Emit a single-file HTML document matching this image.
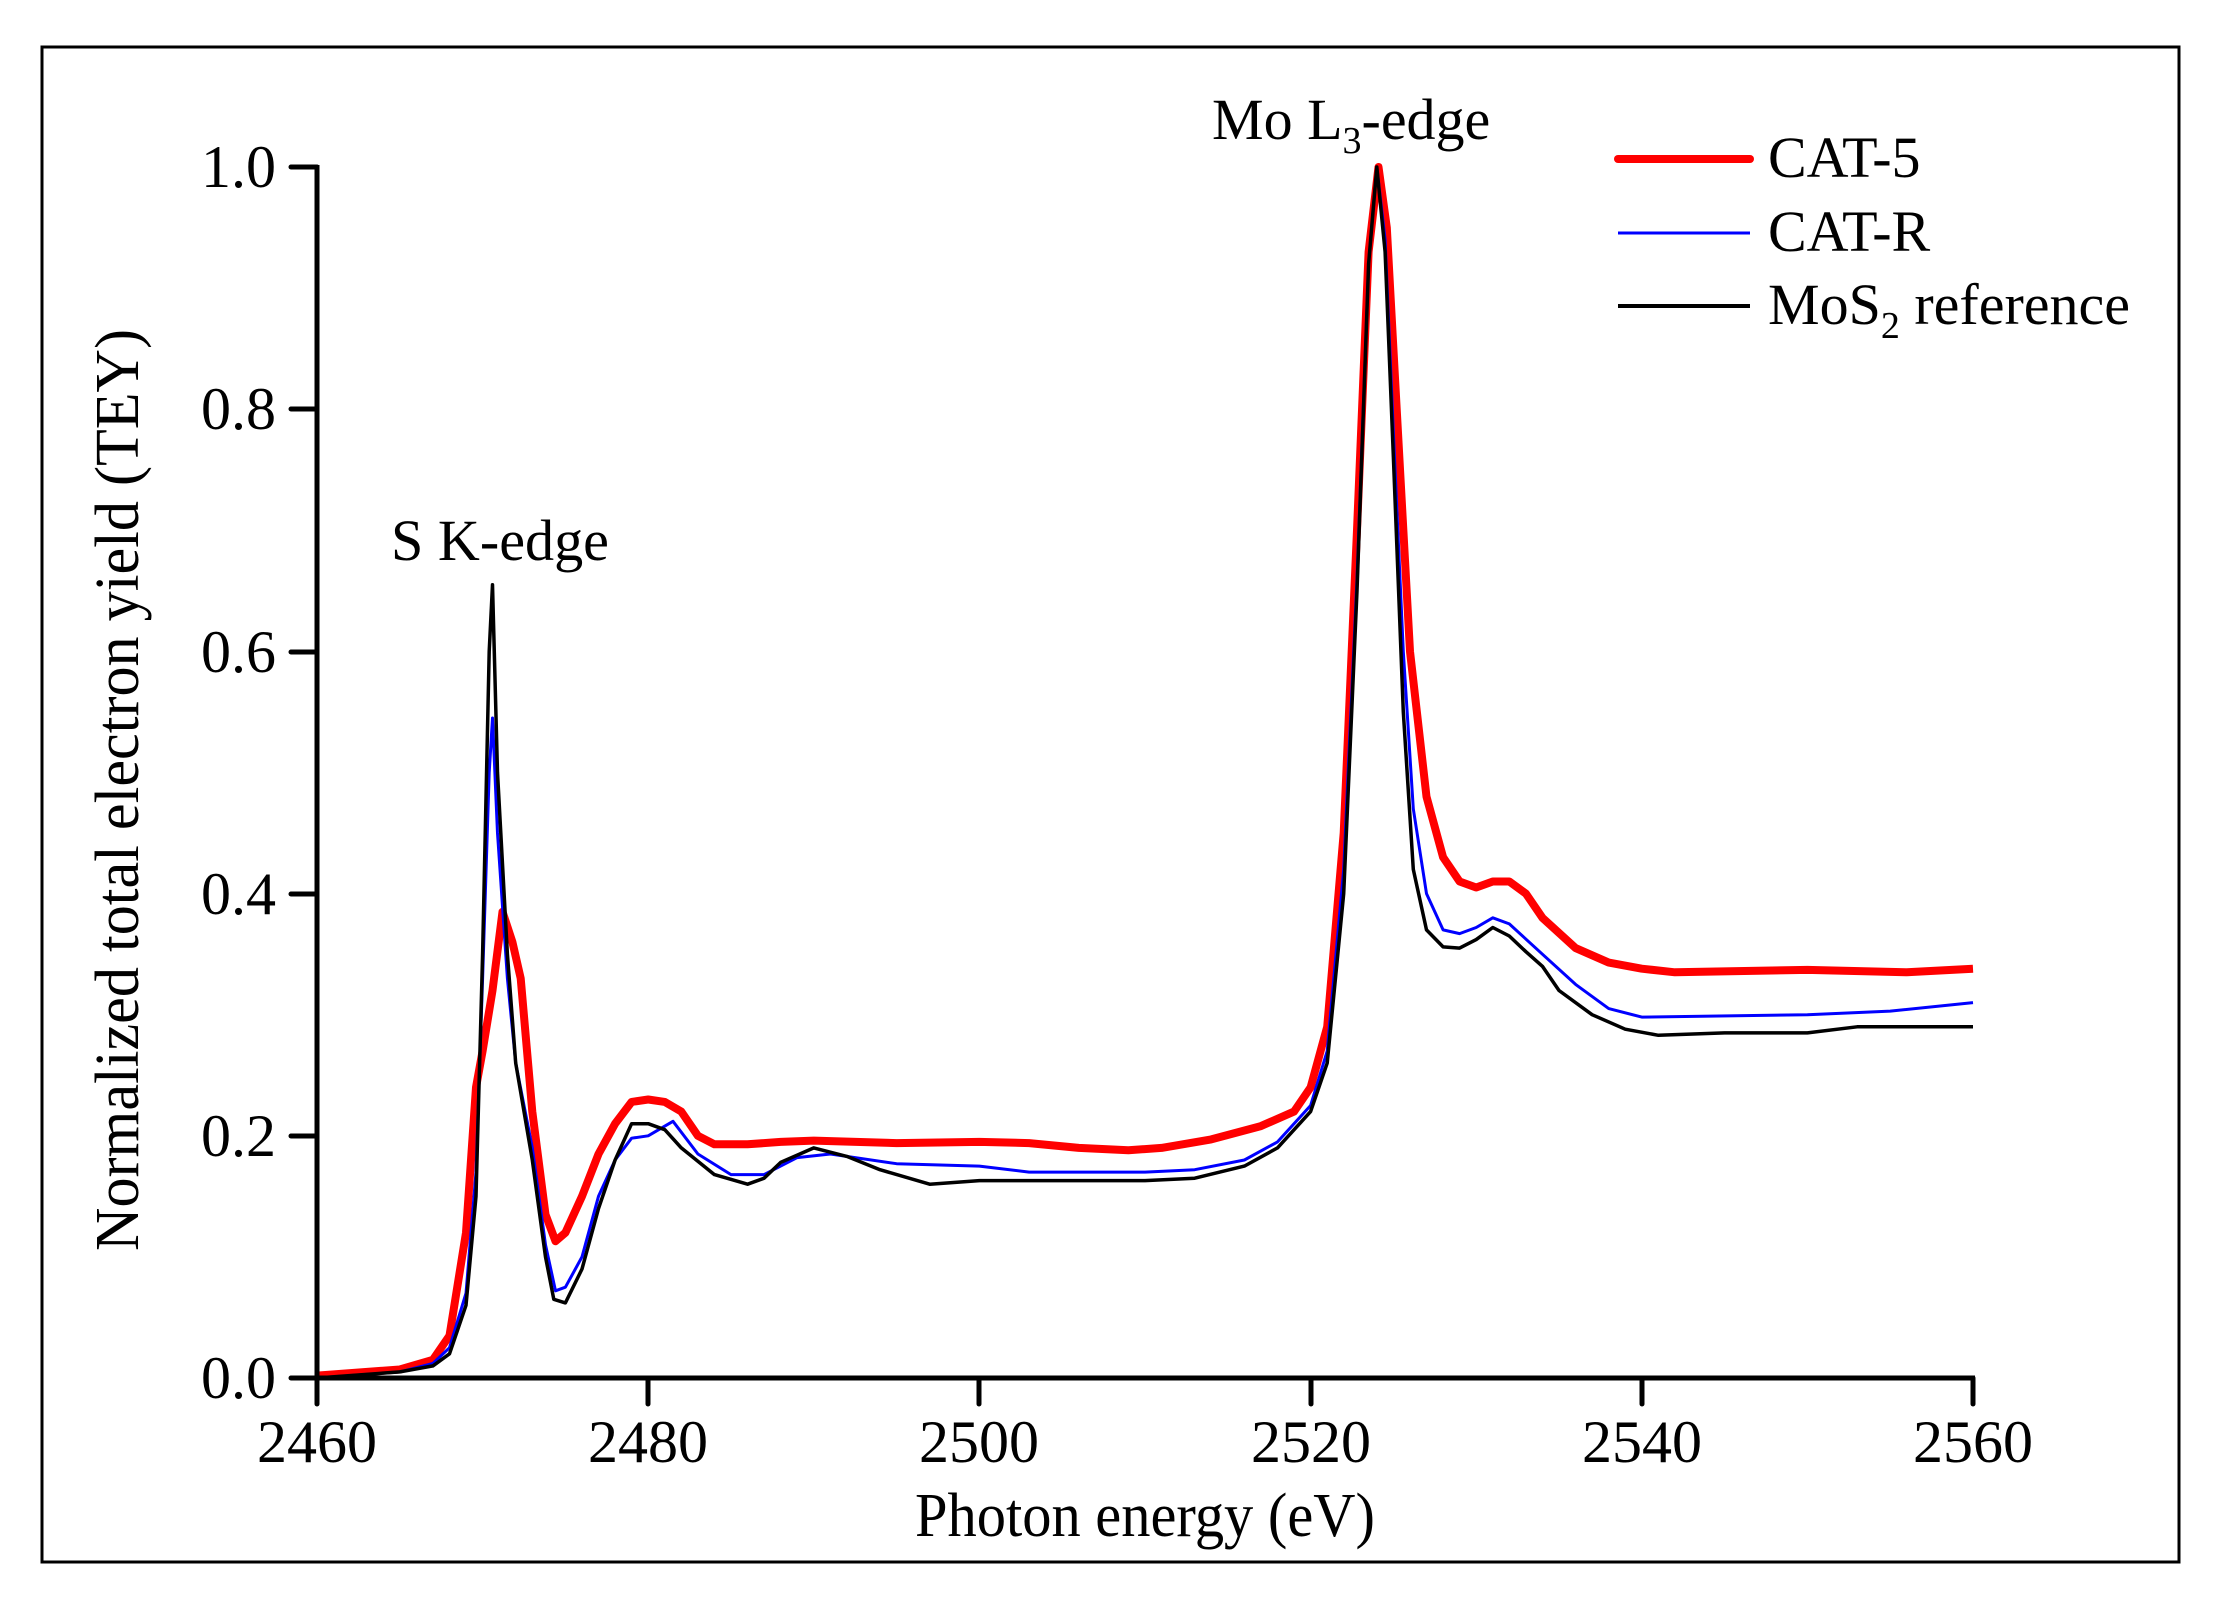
<!DOCTYPE html>
<html><head><meta charset="utf-8"><style>
html,body{margin:0;padding:0;background:#fff;}
svg{display:block;}
text{font-family:"Liberation Serif","Times New Roman",serif;fill:#000;}
</style></head><body>
<svg id="s" width="2213" height="1598" viewBox="0 0 2213 1598" xmlns="http://www.w3.org/2000/svg">
<rect x="42" y="47" width="2137" height="1515" fill="none" stroke="#000" stroke-width="3"/>
<g id="curves"></g>
<line x1="317" y1="165" x2="317" y2="1380" stroke="#000" stroke-width="5"/>
<line x1="315" y1="1378" x2="1975" y2="1378" stroke="#000" stroke-width="5"/>
<g stroke="#000" stroke-width="5" stroke-linecap="round">
<line x1="291" y1="167" x2="317" y2="167"/>
<line x1="291" y1="409" x2="317" y2="409"/>
<line x1="291" y1="652" x2="317" y2="652"/>
<line x1="291" y1="894" x2="317" y2="894"/>
<line x1="291" y1="1136" x2="317" y2="1136"/>
<line x1="291" y1="1378" x2="317" y2="1378"/>
<line x1="317" y1="1378" x2="317" y2="1404"/>
<line x1="648" y1="1378" x2="648" y2="1404"/>
<line x1="979" y1="1378" x2="979" y2="1404"/>
<line x1="1311" y1="1378" x2="1311" y2="1404"/>
<line x1="1642" y1="1378" x2="1642" y2="1404"/>
<line x1="1973" y1="1378" x2="1973" y2="1404"/>
</g>
<g font-size="60" text-anchor="end">
<text x="276" y="187">1.0</text>
<text x="276" y="429">0.8</text>
<text x="276" y="672">0.6</text>
<text x="276" y="914">0.4</text>
<text x="276" y="1156">0.2</text>
<text x="276" y="1398">0.0</text>
</g>
<g font-size="60" text-anchor="middle">
<text x="317" y="1462">2460</text>
<text x="648" y="1462">2480</text>
<text x="979" y="1462">2500</text>
<text x="1311" y="1462">2520</text>
<text x="1642" y="1462">2540</text>
<text x="1973" y="1462">2560</text>
</g>
<text x="1145" y="1536" font-size="62" text-anchor="middle" textLength="460" lengthAdjust="spacingAndGlyphs">Photon energy (eV)</text>
<text transform="translate(138,790) rotate(-90)" font-size="62" text-anchor="middle" textLength="922" lengthAdjust="spacingAndGlyphs">Normalized total electron yield (TEY)</text>
<text x="391" y="560" font-size="58" textLength="218" lengthAdjust="spacingAndGlyphs">S K-edge</text>
<text x="1212" y="139" font-size="58">Mo L<tspan font-size="38" dy="14">3</tspan><tspan dy="-14">-edge</tspan></text>
<line x1="1618" y1="159" x2="1750" y2="159" stroke="#ff0000" stroke-width="8" stroke-linecap="round"/>
<line x1="1618" y1="233" x2="1750" y2="233" stroke="#0000ff" stroke-width="3"/>
<line x1="1618" y1="306" x2="1750" y2="306" stroke="#000" stroke-width="4"/>
<g font-size="58">
<text x="1768" y="177">CAT-5</text>
<text x="1768" y="251">CAT-R</text>
<text x="1768" y="324">MoS<tspan font-size="38" dy="14">2</tspan><tspan dy="-14"> reference</tspan></text>
</g>
</svg>
<script>
function X(e){return 317+(e-2460)*16.56;}
function Y(v){return 1378-v*1211;}
function path(d){return d.map(function(p,i){return (i?'L':'M')+X(p[0]).toFixed(1)+' '+Y(p[1]).toFixed(1);}).join(' ');}
var black=[[2460,0],[2465,0.005],[2467,0.01],[2468,0.02],[2469,0.06],[2469.6,0.15],[2470,0.35],[2470.4,0.6],[2470.6,0.655],[2470.9,0.5],[2471.5,0.35],[2472,0.26],[2473,0.18],[2473.8,0.1],[2474.3,0.065],[2475,0.062],[2476,0.09],[2477,0.14],[2478,0.18],[2479,0.21],[2480,0.21],[2481,0.205],[2482,0.19],[2484,0.168],[2486,0.16],[2487,0.165],[2488,0.178],[2490,0.19],[2492,0.183],[2494,0.172],[2497,0.16],[2500,0.163],[2505,0.163],[2510,0.163],[2513,0.165],[2516,0.175],[2518,0.19],[2520,0.22],[2521,0.26],[2522,0.4],[2522.8,0.65],[2523.5,0.92],[2524,1.0],[2524.5,0.93],[2525,0.76],[2525.6,0.55],[2526.2,0.42],[2527,0.37],[2528,0.356],[2529,0.355],[2530,0.362],[2531,0.372],[2532,0.365],[2533,0.352],[2534,0.34],[2535,0.32],[2537,0.3],[2539,0.288],[2541,0.283],[2545,0.285],[2550,0.285],[2553,0.29],[2555,0.29],[2560,0.29]];
var blue=[[2460,0],[2465,0.005],[2467,0.012],[2468,0.025],[2469,0.07],[2469.6,0.17],[2470,0.33],[2470.4,0.5],[2470.6,0.545],[2470.9,0.45],[2471.5,0.33],[2472,0.26],[2473,0.19],[2473.8,0.11],[2474.4,0.072],[2475,0.075],[2476,0.1],[2477,0.15],[2478,0.18],[2479,0.198],[2480,0.2],[2481.5,0.212],[2483,0.185],[2485,0.168],[2487,0.168],[2489,0.182],[2491,0.185],[2495,0.177],[2500,0.175],[2503,0.17],[2510,0.17],[2513,0.172],[2516,0.18],[2518,0.195],[2520,0.225],[2521,0.27],[2522,0.42],[2522.8,0.66],[2523.5,0.92],[2524,1.0],[2524.5,0.94],[2525,0.78],[2525.6,0.6],[2526.2,0.47],[2527,0.4],[2528,0.37],[2529,0.367],[2530,0.372],[2531,0.38],[2532,0.375],[2534,0.35],[2536,0.325],[2538,0.305],[2540,0.298],[2550,0.3],[2555,0.303],[2560,0.31]];
var red=[[2460,0.002],[2465,0.007],[2467,0.015],[2468,0.035],[2469,0.12],[2469.6,0.24],[2470,0.27],[2470.6,0.32],[2471.2,0.385],[2471.8,0.36],[2472.3,0.33],[2473,0.22],[2473.8,0.135],[2474.4,0.113],[2475,0.12],[2476,0.15],[2477,0.185],[2478,0.21],[2479,0.228],[2480,0.23],[2481,0.228],[2482,0.22],[2483,0.2],[2484,0.193],[2486,0.193],[2488,0.195],[2490,0.196],[2495,0.194],[2500,0.195],[2503,0.194],[2506,0.19],[2509,0.188],[2511,0.19],[2514,0.197],[2517,0.208],[2519,0.22],[2520,0.24],[2521,0.29],[2522,0.45],[2522.8,0.7],[2523.5,0.93],[2524.1,1.0],[2524.6,0.95],[2525.2,0.8],[2526,0.6],[2527,0.48],[2528,0.43],[2529,0.41],[2530,0.405],[2531,0.41],[2532,0.41],[2533,0.4],[2534,0.38],[2536,0.355],[2538,0.343],[2540,0.338],[2542,0.335],[2550,0.337],[2556,0.335],[2560,0.338]];
var g=document.getElementById('curves');
g.innerHTML='<path d="'+path(red)+'" fill="none" stroke="#ff0000" stroke-width="8" stroke-linejoin="round"/>'+
'<path d="'+path(blue)+'" fill="none" stroke="#0000ff" stroke-width="3" stroke-linejoin="round"/>'+
'<path d="'+path(black)+'" fill="none" stroke="#000" stroke-width="3.5" stroke-linejoin="round"/>';
</script>
</body></html>
